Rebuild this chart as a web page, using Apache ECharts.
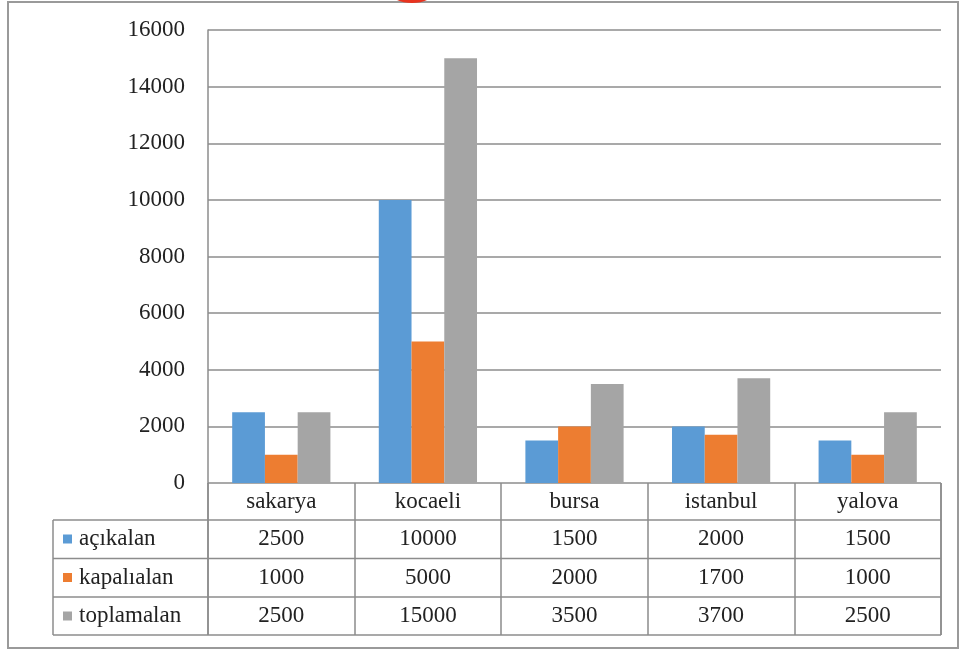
<!DOCTYPE html>
<html lang="tr">
<head>
    <meta charset="UTF-8">
    <title>alanlar</title>
    <style>
        html, body { margin: 0; padding: 0; background: #fff; }
        #app { width: 963px; height: 650px; }
    </style>
    <script src="https://cdn.jsdelivr.net/npm/echarts@6/dist/echarts.min.js"></script>
</head>
<body>
    <div id="app"></div>
    <script>
        // veriler
        var cities = ['sakarya', 'kocaeli', 'bursa', 'istanbul', 'yalova']
        var acikalan = [2500, 10000, 1500, 2000, 1500]
        var kapalialan = [1000, 5000, 2000, 1700, 1000]
        var toplamalan = [2500, 15000, 3500, 3700, 2500]
        var seriesNames = ['açıkalan', 'kapalıalan', 'toplamalan']
        var colors = ['#5B9BD5', '#ED7D31', '#A5A5A5']

        var font = 'Liberation Serif'
        var fsize = 23
        var lineColor = '#8c8c8c'
        var allValues = [acikalan, kapalialan, toplamalan]

        var mychart = echarts.init(document.getElementById('app'))

        // tablo satirlari: ekstra x eksenleri sadece etiket gosterir
        var rowMargins = [56, 94.5, 133]
        var xAxes = [{
            type: 'category',
            data: cities,
            axisLine: { show: false },
            axisTick: { show: true, length: 152, inside: false, lineStyle: { color: lineColor, width: 1.5 } },
            axisLabel: { margin: 19, verticalAlign: 'middle', fontFamily: font, fontSize: fsize, color: '#222' },
            splitLine: { show: false }
        }]
        rowMargins.forEach(function (m, i) {
            xAxes.push({
                type: 'category',
                data: cities,
                position: 'bottom',
                axisLine: { show: false },
                axisTick: { show: false },
                splitLine: { show: false },
                axisLabel: {
                    margin: m,
                    verticalAlign: 'middle',
                    fontFamily: font, fontSize: fsize, color: '#222',
                    formatter: function (v, idx) { return String(allValues[i][idx]) }
                }
            })
        })

        var option = {
            animation: false,
            grid: { left: 208, right: 22, top: 30, bottom: 167, containLabel: false },
            legend: {
                orient: 'vertical',
                left: 58, top: 522,
                padding: 5,
                itemGap: 14.5,
                itemWidth: 9, itemHeight: 9,
                icon: 'rect',
                selectedMode: false,
                textStyle: { fontFamily: font, fontSize: fsize, color: '#222', lineHeight: 24, padding: [0, 0, 0, 2] },
                data: seriesNames
            },
            xAxis: xAxes,
            yAxis: {
                type: 'value',
                min: 0, max: 16000, interval: 2000,
                axisLine: { show: true, lineStyle: { color: lineColor, width: 1.5 } },
                axisTick: { show: false },
                axisLabel: {
                    margin: 23, fontFamily: font, fontSize: fsize, color: '#222',
                    formatter: function (v) { return String(v) }
                },
                splitLine: { lineStyle: { color: lineColor, width: 1.5 } }
            },
            series: seriesNames.map(function (n, i) {
                return {
                    name: n,
                    type: 'bar',
                    data: allValues[i],
                    barGap: '0%',
                    barCategoryGap: '33%',
                    itemStyle: { color: colors[i] }
                }
            }),
            graphic: [
                // dis cerceve
                { type: 'rect', shape: { x: 8, y: 2, width: 950, height: 646 }, style: { fill: null, stroke: '#9a9a9a', lineWidth: 2 }, silent: true },
                { type: 'ellipse', shape: { cx: 412, cy: -6, rx: 20, ry: 9 }, style: { fill: '#e8331f' }, silent: true },
                // tablo cizgileri
                { type: 'line', shape: { x1: 53, y1: 520, x2: 941, y2: 520 }, style: { stroke: lineColor, lineWidth: 1.5 } },
                { type: 'line', shape: { x1: 53, y1: 558.5, x2: 941, y2: 558.5 }, style: { stroke: lineColor, lineWidth: 1.5 } },
                { type: 'line', shape: { x1: 53, y1: 597, x2: 941, y2: 597 }, style: { stroke: lineColor, lineWidth: 1.5 } },
                { type: 'line', shape: { x1: 53, y1: 635, x2: 941, y2: 635 }, style: { stroke: lineColor, lineWidth: 1.5 } },
                { type: 'line', shape: { x1: 53, y1: 520, x2: 53, y2: 635 }, style: { stroke: lineColor, lineWidth: 1.5 } },
                { type: 'line', shape: { x1: 208, y1: 483, x2: 208, y2: 635 }, style: { stroke: lineColor, lineWidth: 1.5 } },
                { type: 'line', shape: { x1: 941, y1: 483, x2: 941, y2: 635 }, style: { stroke: lineColor, lineWidth: 1.5 } }
            ]
        }
        mychart.setOption(option)
    </script>
</body>
</html>
